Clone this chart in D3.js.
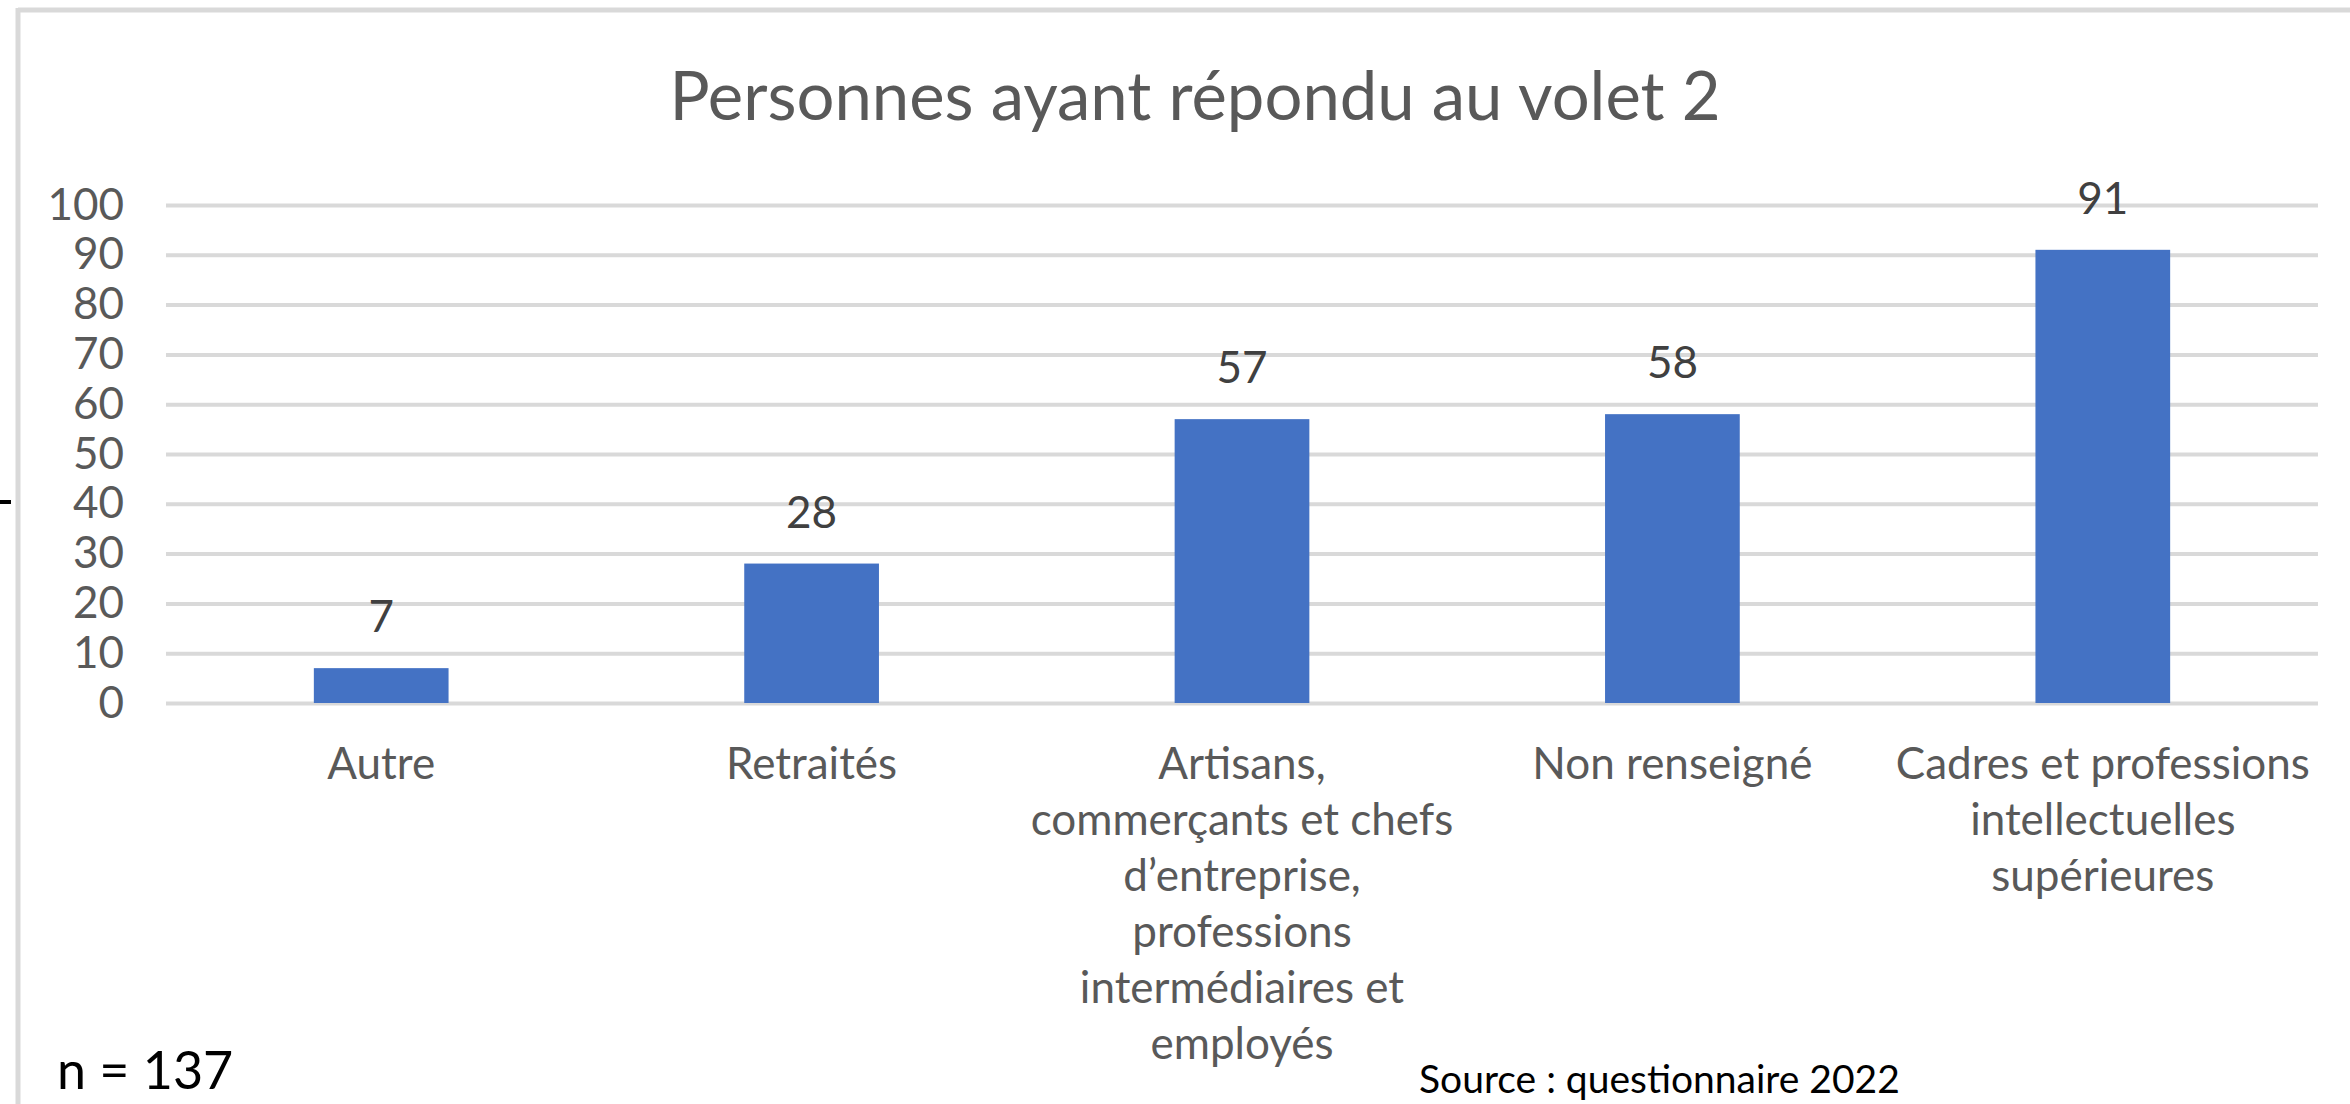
<!DOCTYPE html>
<html>
<head>
<meta charset="utf-8">
<script src="https://cdn.jsdelivr.net/npm/d3@7"></script>
<style>
  html, body { margin: 0; padding: 0; background: #fff; }
  svg { display: block; }
</style>
</head>
<body>
<div id="chart"></div>
<script>
const width = 2350;
const height = 1104;

// Chart data
const categories = [
    ["Autre"],
    ["Retraités"],
    ["Artisans,", "commerçants et chefs", "d’entreprise,", "professions", "intermédiaires et", "employés"],
    ["Non renseigné"],
    ["Cadres et professions", "intellectuelles", "supérieures"]
];
const values = [7, 28, 57, 58, 91];
const yTicks = [0, 10, 20, 30, 40, 50, 60, 70, 80, 90, 100];

const titleText = "Personnes ayant répondu au volet 2";
const noteText = "n = 137";
const sourceText = "Source : questionnaire 2022";

const font = "Lato, 'Open Sans', sans-serif";
const grey = "#595959";

const plot = { left: 166, right: 2318, top: 205, bottom: 703 };

const svg = d3.select("#chart")
    .append("svg")
    .attr("width", width)
    .attr("height", height);

// Frame (only top and left edges are visible)
svg.append("line")
    .attr("x1", 18).attr("x2", width)
    .attr("y1", 10).attr("y2", 10)
    .attr("stroke", "#d9d9d9").attr("stroke-width", 5);
svg.append("line")
    .attr("x1", 18).attr("x2", 18)
    .attr("y1", 8).attr("y2", height)
    .attr("stroke", "#d9d9d9").attr("stroke-width", 5);

// small dash outside the frame
svg.append("line")
    .attr("x1", 0).attr("x2", 11)
    .attr("y1", 502).attr("y2", 502)
    .attr("stroke", "#000").attr("stroke-width", 4);

const x = d3.scaleBand()
    .domain(d3.range(values.length))
    .range([plot.left, plot.right])
    .paddingInner(0.687)
    .paddingOuter(0.3435);

const y = d3.scaleLinear()
    .domain([0, 100])
    .range([plot.bottom, plot.top]);

// Gridlines + tick labels
const yAxis = svg.append("g")
    .attr("transform", `translate(${plot.left},0)`)
    .call(d3.axisLeft(y)
        .tickValues(yTicks)
        .tickSize(-(plot.right - plot.left))
        .tickPadding(42));

yAxis.select(".domain").remove();
yAxis.selectAll(".tick line")
    .attr("stroke", "#d9d9d9")
    .attr("stroke-width", 4);
yAxis.selectAll(".tick text")
    .attr("fill", grey)
    .attr("font-family", font)
    .attr("font-size", 44);

// Bars
svg.selectAll("rect.bar")
    .data(values)
    .enter()
    .append("rect")
    .attr("class", "bar")
    .attr("x", (d, i) => x(i))
    .attr("y", d => y(d))
    .attr("width", x.bandwidth())
    .attr("height", d => y(0) - y(d))
    .attr("fill", "#4472C4");

// Value labels
svg.selectAll("text.value")
    .data(values)
    .enter()
    .append("text")
    .attr("class", "value")
    .attr("x", (d, i) => x(i) + x.bandwidth() / 2)
    .attr("y", d => y(d) - 36)
    .attr("text-anchor", "middle")
    .attr("fill", "#404040")
    .attr("font-family", font)
    .attr("font-size", 44)
    .text(d => d);

// Category labels (multi-line)
const catLabels = svg.selectAll("text.cat")
    .data(categories)
    .enter()
    .append("text")
    .attr("class", "cat")
    .attr("text-anchor", "middle")
    .attr("fill", grey)
    .attr("font-family", font)
    .attr("font-size", 44);

catLabels.each(function (lines, i) {
    const cx = x(i) + x.bandwidth() / 2;
    d3.select(this).selectAll("tspan")
        .data(lines)
        .enter()
        .append("tspan")
        .attr("x", cx)
        .attr("y", (d, j) => 779 + j * 56)
        .text(d => d);
});

// Title
svg.append("text")
    .attr("x", 1195)
    .attr("y", 120)
    .attr("text-anchor", "middle")
    .attr("fill", grey)
    .attr("font-family", font)
    .attr("font-size", 67)
    .text(titleText);

// Notes
svg.append("text")
    .attr("x", 57)
    .attr("y", 1089)
    .attr("fill", "#000")
    .attr("font-family", font)
    .attr("font-size", 52)
    .text(noteText);

svg.append("text")
    .attr("x", 1419)
    .attr("y", 1093)
    .attr("fill", "#000")
    .attr("font-family", font)
    .attr("font-size", 39)
    .text(sourceText);
</script>
</body>
</html>
